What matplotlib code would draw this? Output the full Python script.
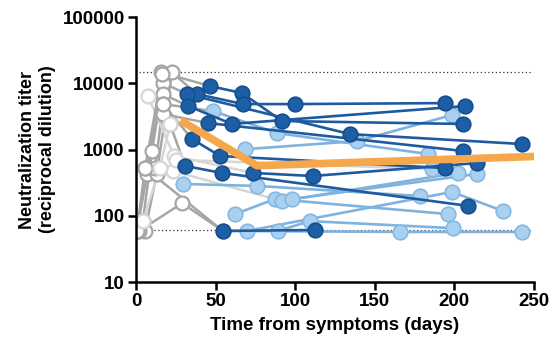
import matplotlib
matplotlib.use("Agg")
import matplotlib.pyplot as plt

plt.rcParams['font.family'] = ['Liberation Sans', 'DejaVu Sans']
plt.rcParams['font.weight'] = 'bold'

# each participant: days, titers, colour group, number of early (grey) samples, early shade
days = [
    [0.6, 7, 16, 46.5, 66.6, 91.7, 205.4],
    [5.7, 13, 22.6, 38.3, 67.2, 100, 194],
    [4.4, 10, 17, 32, 134.4, 242.5],
    [17, 32.7, 60.3, 206.7],
    [17, 35.2, 52.8, 194],
    [21.4, 30.8, 54, 208.5],
    [5.7, 54.6, 112.4],
    [17, 45.2, 205.4],
    [24, 73.5, 111, 214],
    [12, 17, 48.4, 88.6, 183.4],
    [68.5, 138.8, 198.5],
    [29.5, 76, 178.4],
    [2, 29, 54.6, 166, 242.5],
    [62.2, 87.3, 196],
    [89, 109.3, 199],
    [23, 91.7, 202],
    [98, 214],
    [69.7, 198.5, 230.5],
    [7.5, 25, 186],
    [0.6, 5.7, 16.3],
    [4.4, 15, 21.4],
]
titers = [
    [59, 427, 14580, 9080, 7110, 2690, 2430],
    [59, 427, 14580, 6870, 4850, 4850, 5020],
    [83, 950, 10070, 6870, 1710, 1210],
    [6870, 4530, 2430, 4530],
    [4850, 1440, 798, 525],
    [2430, 565, 443, 141],
    [525, 59, 61],
    [3430, 2510, 950],
    [800, 443, 398, 625],
    [525, 4850, 3800, 1770, 855],
    [1010, 1340, 3310],
    [302, 282, 199],
    [59, 155, 59, 57, 57],
    [106, 179, 106],
    [59, 83, 65],
    [474, 167, 443],
    [179, 427],
    [59, 229, 118],
    [6410, 700, 508],
    [59, 525, 13800],
    [83, 525, 2430],
]
group = ['dark'] * 9 + ['light'] * 10 + ['none'] * 2
n_early = [3, 3, 3, 1, 1, 1, 1, 1, 1, 2, 0, 0, 2, 0, 0, 1, 0, 0, 2, 3, 3]
early_shade = ['gray', 'gray', 'gray', 'gray', 'gray', 'gray', 'gray', 'gray', 'lgray',
               'gray', 'gray', 'gray', 'gray', 'gray', 'gray', 'lgray', 'gray', 'gray', 'lgray',
               'gray', 'lgray']

# fitted trend
trend_days = [28, 76, 250]
trend_titer = [2750, 570, 785]

lod_low = 60
lod_high = 14580

line_col = {'dark': '#1f5aa0', 'light': '#7fb3df'}
face_col = {'dark': '#1d5fa6', 'light': '#a9d1ef'}
edge_col = {'dark': '#174d8c', 'light': '#84b8e2'}
gray_col = {'gray': '#a6a6a6', 'lgray': '#d6d6d6'}

fig = plt.figure(figsize=(5.58, 3.53), dpi=100)
ax = fig.add_axes([0.2437, 0.2011, 0.7133, 0.7507])

ax.hlines([lod_low, lod_high], 2, 248, colors='#333333', linestyles=(0, (1, 2)), lw=0.9, zorder=0.5)

for d, t, g, ne, sh in zip(days, titers, group, n_early, early_shade):
    gc = gray_col[sh]
    zl = 2 if g == 'light' else 4
    if ne > 0:
        ax.plot(d[:ne + 1], t[:ne + 1], color=gc, lw=1.8, zorder=1, solid_capstyle='round')
        ax.plot(d[:ne], t[:ne], 'o', ms=10, mfc='white', mec=gc, mew=1.6, zorder=1.5)
    if g == 'none':
        continue
    ax.plot(d[ne:], t[ne:], color=line_col[g], lw=1.9, zorder=zl)
    ax.plot(d[ne:], t[ne:], 'o', ms=10.5, mfc=face_col[g], mec=edge_col[g], mew=1.2, zorder=zl + 0.5)

ax.plot(trend_days, trend_titer, color='#f6a64b', lw=5.5, zorder=6, solid_capstyle='butt')

ax.set_yscale('log')
ax.set_xlim(0, 250)
ax.set_ylim(10, 100000)
ax.set_xticks([0, 50, 100, 150, 200, 250])
ax.set_yticks([10, 100, 1000, 10000, 100000])
ax.set_yticklabels(['10', '100', '1000', '10000', '100000'])
ax.minorticks_off()
ax.tick_params(axis='both', length=6, width=1.8, labelsize=13.5, pad=2)
for lab in ax.get_xticklabels() + ax.get_yticklabels():
    lab.set_fontweight('bold')
for s in ['top', 'right']:
    ax.spines[s].set_visible(False)
for s in ['left', 'bottom']:
    ax.spines[s].set_linewidth(1.8)

ax.set_xlabel('Time from symptoms (days)', fontsize=13.5, fontweight='bold', labelpad=5)
ax.set_ylabel('Neutralization titer\n(reciprocal dilution)', fontsize=13, fontweight='bold', labelpad=5)

fig.savefig('out.png', dpi=100)
